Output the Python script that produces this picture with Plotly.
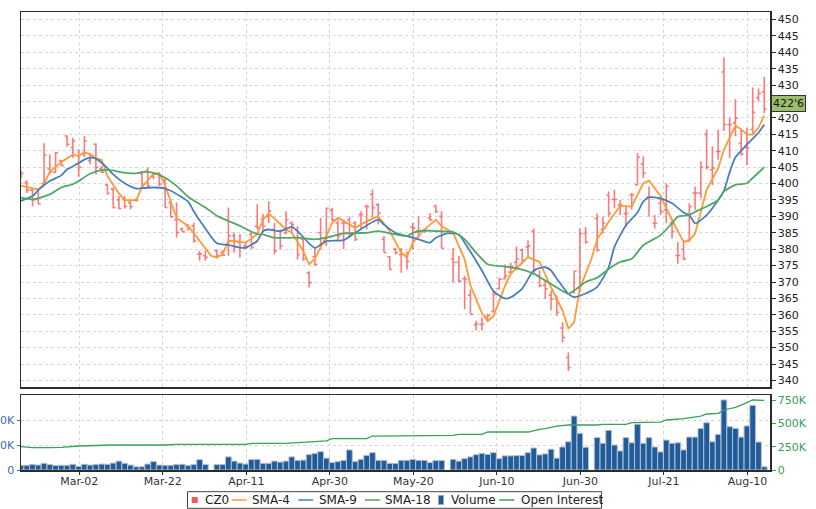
import plotly.graph_objects as go

# ---------------- data ----------------
# daily OHLC (weekday slots, None = exchange holiday)
opens = [402.5, 400.3, 398.0, 395.2, 400.0, 404.6, 403.5, 407.0, 414.5, 411.0, 406.0, 409.0, 407.0, 412.0, 404.5, 399.6, 398.3, 395.0, 395.2, 394.2, 395.0, 403.0, 404.0, 402.0, 403.0, 401.0, 394.2, 389.0, 386.1, 387.1, 387.1, 378.5, 378.0,
         None,
         379.5, 379.0, 388.8, 384.1, 382.0, 381.0, 384.6, 387.0, 389.1, 390.0, 386.0, 385.5, 385.0, 388.0, 386.0, 383.0, 372.8, 377.7, 385.0, 382.0, 392.0, 388.0, 388.0, 389.0, 388.0, 390.5, 393.0, 396.7, 393.5, 383.0, 377.7, 380.0, 378.4, 377.7, 386.8, 385.5, 385.5, 389.5, 393.0, 390.0,
         None,
         377.0, 376.0, 371.0, 366.0, 357.0, 357.0, 359.5, 361.0, 368.0, 371.0, 373.0, 376.0, 379.7, 380.7, 385.5, 372.0, 369.0, 366.0, 364.8, 356.0, 347.0, 367.0, 368.0, 384.8,
         None,
         389.4, 386.0, 396.5, 395.2, 393.5, 390.9, 396.5, 399.6, 406.0, 396.0, 387.9, 394.0, 392.0, 388.0, 378.1, 380.0, 382.7, 397.1, 397.1, 415.0, 404.2, 409.8, 434.0, 418.0, 418.5, 412.3, 411.0, 416.5, 426.2, 428.0]
highs = [404.0, 401.0, 398.5, 398.3, 412.3, 408.9, 409.7, 407.2, 414.7, 414.0, 410.4, 414.5, 409.4, 412.3, 405.4, 399.8, 398.8, 396.2, 396.2, 394.7, 395.5, 403.8, 404.9, 403.3, 403.3, 401.8, 395.2, 394.2, 386.6, 387.6, 388.1, 379.5, 379.5,
         None,
         380.0, 379.7, 392.7, 385.1, 384.6, 382.0, 385.1, 393.7, 390.7, 394.6, 388.0, 386.0, 391.6, 388.5, 387.0, 384.0, 373.3, 380.4, 389.6, 392.6, 392.6, 389.0, 389.0, 390.0, 388.5, 391.6, 393.6, 398.2, 394.1, 384.0, 377.9, 380.4, 380.4, 379.4, 388.0, 390.0, 386.0, 391.0, 393.6, 391.6,
         None,
         380.4, 377.9, 371.8, 367.8, 358.2, 359.2, 360.3, 367.2, 371.3, 375.3, 375.9, 380.8, 380.2, 382.7, 386.3, 373.5, 370.5, 367.4, 365.9, 357.7, 348.5, 373.5, 386.3, 386.8,
         None,
         390.9, 389.9, 397.6, 398.1, 395.0, 393.5, 397.1, 409.3, 408.3, 399.1, 390.4, 396.0, 400.1, 389.4, 382.2, 382.7, 394.0, 399.1, 406.8, 416.5, 411.4, 416.5, 438.5, 420.1, 425.7, 416.7, 417.0, 429.3, 429.0, 432.5]
lows = [401.5, 397.1, 393.0, 393.7, 399.8, 402.8, 403.3, 405.2, 411.2, 407.9, 402.1, 408.1, 405.9, 402.8, 403.3, 396.7, 392.4, 392.2, 392.4, 392.2, 394.5, 398.3, 398.8, 401.3, 399.3, 392.7, 389.6, 383.6, 385.1, 385.6, 382.0, 376.5, 376.5,
        None,
        377.5, 378.0, 378.0, 379.0, 377.5, 380.0, 380.0, 386.1, 385.1, 388.0, 378.4, 380.0, 384.5, 385.0, 376.9, 376.4, 368.3, 374.9, 379.9, 381.0, 388.5, 382.5, 380.0, 384.0, 382.5, 386.5, 386.0, 389.6, 387.5, 379.0, 373.8, 378.4, 372.8, 373.8, 379.9, 383.5, 385.0, 388.5, 391.0, 380.3,
        None,
        369.8, 369.8, 361.7, 360.2, 355.2, 355.2, 358.3, 360.7, 367.7, 370.8, 372.3, 373.6, 375.6, 377.6, 372.5, 368.4, 364.8, 361.3, 359.7, 351.6, 342.9, 366.4, 366.9, 381.7,
        None,
        379.2, 384.8, 389.9, 392.5, 390.4, 386.8, 392.0, 399.6, 401.7, 389.9, 386.3, 390.4, 387.9, 383.3, 375.6, 376.6, 382.2, 392.0, 395.5, 404.2, 399.6, 407.3, 416.0, 407.8, 414.4, 408.5, 405.7, 415.3, 425.0, 421.5]
closes = [403.1, 398.0, 395.0, 393.8, 408.7, 403.5, 409.4, 405.5, 412.0, 413.0, 405.0, 413.0, 408.6, 405.0, 403.5, 397.0, 392.7, 392.4, 393.0, 393.0, 395.0, 398.8, 399.3, 403.0, 399.8, 392.7, 389.9, 385.1, 385.3, 386.6, 382.6, 378.5, 377.5,
          None,
          378.0, 378.2, 384.1, 380.5, 380.5, 380.5, 380.5, 386.6, 387.0, 391.6, 379.5, 381.0, 389.0, 387.5, 378.4, 377.0, 369.8, 375.4, 383.5, 392.5, 389.0, 384.0, 388.0, 384.5, 383.0, 390.6, 393.0, 392.6, 391.0, 379.0, 373.8, 378.9, 378.4, 376.3, 386.5, 385.5, 385.5, 389.0, 391.5, 380.3,
          None,
          376.0, 370.3, 370.8, 360.2, 357.2, 357.2, 359.8, 366.2, 370.8, 371.8, 374.8, 377.0, 376.6, 381.0, 373.5, 368.9, 367.9, 364.8, 360.8, 353.1, 343.9, 373.3, 384.8, 382.2,
          None,
          379.7, 388.0, 390.9, 395.2, 393.5, 390.9, 396.5, 408.0, 403.2, 396.0, 387.9, 391.4, 399.1, 385.3, 378.1, 377.1, 393.0, 397.1, 405.0, 405.0, 404.7, 409.8, 418.0, 418.0, 419.9, 409.0, 410.9, 421.7, 427.5, 422.75]

# daily volume, thousands of contracts
volumes = [19, 19, 22, 20, 27, 22, 18, 19, 19, 23, 15, 23, 20, 22, 24, 23, 28, 36, 27, 20, 13, 13, 24, 34, 20, 19, 19, 22, 23, 18, 22, 42, 22,
           None,
           22, 22, 53, 36, 28, 24, 42, 43, 27, 27, 36, 32, 36, 53, 39, 40, 62, 67, 74, 48, 30, 34, 39, 81, 34, 43, 59, 70, 39, 39, 27, 27, 39, 39, 43, 39, 39, 30, 38, 38,
           None,
           43, 36, 46, 53, 62, 67, 63, 70, 46, 57, 57, 58, 59, 70, 89, 61, 65, 84, 48, 93, 114, 218, 148, 92,
           None,
           131, 108, 160, 101, 77, 131, 110, 185, 108, 131, 93, 73, 121, 108, 110, 81, 133, 133, 168, 191, 114, 144, 283, 175, 168, 133, 178, 261, 113, 13]

# moving averages (bar slot, value)
sma4_idx = [0, 1, 3, 4, 5, 7, 9, 10, 11, 12, 13, 14, 15, 17, 18, 20, 21, 23, 24, 25, 26, 27, 29, 31, 33, 34, 35, 36, 37, 39, 41, 42, 43, 44, 46, 47, 49, 50, 51, 53, 54, 55, 57, 58,
            60, 62, 64, 66, 67, 68, 70, 71, 72, 73, 75, 77, 78, 80, 81, 82, 84, 85, 87, 88, 90, 92, 94, 95, 96, 97, 99, 100, 102, 104, 106, 108, 109, 111, 113, 115, 116, 117, 119, 121, 122, 124, 125, 126, 127, 128, 129]
sma4_val = [399.3, 398.9, 398.2, 399.8, 403.6, 406.6, 408.8, 408.4, 409.6, 408.9, 407.8, 407.2, 402.3, 397.0, 395.0, 394.9, 399.0, 403.0, 403.2, 399.5, 394.5, 389.5, 387.1, 382.5, 378.0, 377.5, 378.5, 382.5, 382.5, 382.0, 384.6, 389.0, 390.9, 389.3, 386.0, 385.0, 379.4, 375.4, 377.1, 384.0, 388.0, 389.6, 387.5, 386.5,
            388.5, 390.1, 385.5, 378.9, 377.7, 382.0, 386.0, 387.5, 389.0, 387.0, 385.0, 376.9, 369.0, 360.5, 358.1, 359.6, 368.8, 372.5, 375.9, 377.6, 376.1, 368.4, 361.3, 355.8, 357.7, 368.0, 377.0, 383.0, 388.4, 393.2, 393.0, 400.1, 400.9, 396.2, 388.9, 382.2, 382.7, 384.8, 398.1, 404.7, 410.3, 417.7, 416.5, 414.9, 414.9, 417.0, 420.8]
sma9_idx = [0, 2, 3, 5, 7, 8, 9, 11, 12, 13, 15, 16, 18, 20, 21, 23, 25, 26, 29, 30, 32, 34, 36, 38, 39, 41, 42, 43, 45, 47, 48, 51, 53, 56, 58,
            62, 63, 65, 67, 69, 71, 72, 74, 76, 77, 80, 82, 84, 85, 87, 89, 91, 92, 93, 95, 96, 98, 100, 102, 103, 105, 107, 108, 109, 111, 113, 115, 116, 117, 119, 120, 122, 123, 124, 126, 128, 129]
sma9_val = [394.7, 396.2, 398.0, 400.8, 402.5, 404.4, 405.2, 407.3, 407.9, 407.6, 404.7, 402.8, 400.1, 398.5, 398.6, 398.8, 398.5, 397.8, 394.5, 391.5, 386.3, 381.8, 381.3, 380.5, 380.5, 382.5, 385.5, 386.0, 385.5, 386.8, 385.5, 380.4, 382.5, 382.8, 385.0,
            389.0, 387.5, 385.0, 384.0, 383.0, 382.0, 383.5, 384.8, 384.5, 382.0, 373.5, 367.2, 365.0, 365.3, 368.0, 373.5, 374.5, 373.5, 371.0, 366.4, 365.4, 366.5, 368.5, 374.5, 380.7, 387.3, 391.2, 394.5, 395.8, 395.5, 394.0, 391.2, 390.4, 387.9, 390.4, 392.5, 397.8, 403.5, 408.0, 411.9, 415.5, 418.0]
sma18_idx = [0, 2, 5, 7, 9, 10, 12, 14, 16, 17, 20, 21, 23, 25, 27, 29, 32, 34, 36, 38, 41, 42, 44, 48, 51, 53, 56,
             60, 62, 65, 67, 68, 70, 72, 75, 77, 79, 81, 84, 86, 89, 92, 95, 96, 98, 100, 102, 104, 106, 108, 111, 113, 114, 116, 117, 119, 121, 122, 124, 126, 127, 129]
sma18_val = [395.7, 395.2, 396.7, 398.8, 399.8, 400.8, 403.0, 404.1, 404.0, 403.6, 403.1, 403.5, 403.3, 401.8, 399.3, 396.0, 392.7, 390.2, 388.6, 387.1, 384.6, 384.5, 383.5, 383.5, 383.0, 383.5, 384.8,
             385.0, 385.5, 384.5, 384.0, 385.0, 385.7, 385.5, 385.2, 383.0, 378.9, 375.4, 374.7, 374.2, 372.5, 369.4, 366.4, 367.4, 370.0, 371.3, 374.0, 376.1, 377.1, 381.2, 384.3, 387.9, 389.9, 390.4, 391.4, 393.0, 395.0, 397.6, 399.6, 400.1, 401.7, 405.0]

# open interest (bar slot, thousands)
oi_idx = [0, 2, 5, 7, 10, 16, 25, 27, 39, 40, 46, 50, 53, 54, 60, 61, 66, 68, 75, 76, 80, 81, 88, 90, 91, 93, 95, 100, 101, 105, 106, 111, 112, 115, 116, 118, 119, 121, 122, 124, 125, 126, 127, 129]
oi_val = [250, 240, 240, 243, 257, 268, 268, 275, 275, 286, 286, 304, 311, 336, 336, 364, 364, 371, 371, 382, 382, 407, 407, 436, 443, 471, 482, 482, 489, 489, 507, 514, 536, 550, 561, 578, 600, 607, 643, 671, 696, 721, 750, 745]

date_labels = ["Mar-02", "Mar-22", "Apr-11", "Apr-30", "May-20", "Jun-10", "Jun-30", "Jul-21", "Aug-10"]
vol_ticks = [0, 100, 200]
oi_ticks = [0, 250, 500, 750]
last_label = "422'6"
legend_names = ["CZ0", "SMA-4", "SMA-9", "SMA-18", "Volume", "Open Interest"]

# ---------------- styles ----------------
FONT = "DejaVu Sans"
GRID = "#d6d6d6"
FRAME = "#2b2b2b"
C_BAR = "rgba(250,70,70,0.72)"
C_SQ = "#f25a5a"
C_SMA4 = "#ff9a35"
C_SMA9 = "#4a7fbe"
C_SMA18 = "#4fa866"
C_VOL = "#1f5c9c"
C_OI = "#36a257"

W, H = 816, 509
ML, MR, MT, MB = 21, 46, 12, 39
PW, PH = W - ML - MR, H - MT - MB

def xp(px):
    return (px - ML) / PW

def yp(py):
    return (H - MB - py) / PH

# ---------------- figure ----------------
n_slots = len(closes)
slots = list(range(n_slots))
first_label_slot, label_step = 10.1, 14.5
tick_pos = [first_label_slot + label_step * k for k in range(len(date_labels))]

bx = [s for s in slots if closes[s] is not None]
fig = go.Figure()
fig.add_trace(go.Ohlc(
    x=bx, open=[opens[s] for s in bx], high=[highs[s] for s in bx],
    low=[lows[s] for s in bx], close=[closes[s] for s in bx],
    increasing=dict(line=dict(color=C_BAR, width=1.6)),
    decreasing=dict(line=dict(color=C_BAR, width=1.6)),
    tickwidth=0.42, name=legend_names[0], showlegend=False, hoverinfo="skip",
    xaxis="x", yaxis="y"))
fig.add_trace(go.Scatter(x=sma4_idx, y=sma4_val, mode="lines", name=legend_names[1],
                         line=dict(color=C_SMA4, width=1.8), showlegend=False,
                         xaxis="x", yaxis="y"))
fig.add_trace(go.Scatter(x=sma9_idx, y=sma9_val, mode="lines", name=legend_names[2],
                         line=dict(color=C_SMA9, width=1.8, shape="spline", smoothing=0.6),
                         showlegend=False, xaxis="x", yaxis="y"))
fig.add_trace(go.Scatter(x=sma18_idx, y=sma18_val, mode="lines", name=legend_names[3],
                         line=dict(color=C_SMA18, width=1.8, shape="spline", smoothing=0.6),
                         showlegend=False, xaxis="x", yaxis="y"))
vx = [s for s in slots if volumes[s] is not None]
fig.add_trace(go.Bar(x=vx, y=[volumes[s] for s in vx], name=legend_names[4], width=1.0,
                     marker=dict(color=C_VOL, line=dict(color="#b9bfcc", width=1)),
                     showlegend=False, xaxis="x2", yaxis="y2"))
fig.add_trace(go.Scatter(x=oi_idx, y=oi_val, mode="lines", name=legend_names[5],
                         line=dict(color=C_OI, width=1.3), showlegend=False,
                         xaxis="x2", yaxis="y3"))

# ---- legend box drawn in the chart's own style (compact Java-chart legend) ----
shapes = [dict(type="rect", xref="paper", yref="paper", x0=xp(187.5), x1=xp(601.5),
               y0=yp(508.3), y1=yp(491.7), line=dict(color="#444", width=1),
               fillcolor="white", layer="above")]
annotations = []
leg_y = 500.0
leg_kinds = ["square", "line", "line", "line", "bar", "line"]
leg_colors = [C_SQ, C_SMA4, C_SMA9, C_SMA18, C_VOL, C_OI]
leg_sym_x = [191.7, 231.7, 298.3, 365.0, 438.5, 499.3]
leg_txt_x = [202.5, 250.0, 316.7, 383.3, 449.3, 519.3]
for name, kind, col, sx, tx in zip(legend_names, leg_kinds, leg_colors, leg_sym_x, leg_txt_x):
    if kind == "square":
        shapes.append(dict(type="rect", xref="paper", yref="paper", x0=xp(sx), x1=xp(sx + 6),
                           y0=yp(leg_y + 3), y1=yp(leg_y - 3), line=dict(width=0),
                           fillcolor=col, layer="above"))
    elif kind == "bar":
        shapes.append(dict(type="rect", xref="paper", yref="paper", x0=xp(sx), x1=xp(sx + 5),
                           y0=yp(leg_y + 4.5), y1=yp(leg_y - 4.5), line=dict(color="#9aa6b8", width=1),
                           fillcolor=col, layer="above"))
    else:
        shapes.append(dict(type="line", xref="paper", yref="paper", x0=xp(sx), x1=xp(sx + 15),
                           y0=yp(leg_y), y1=yp(leg_y), line=dict(color=col, width=1.5),
                           layer="above"))
    annotations.append(dict(x=xp(tx), y=yp(leg_y), xref="paper", yref="paper",
                            xanchor="left", yanchor="middle", text=name, showarrow=False,
                            font=dict(family=FONT, size=12, color="#222")))

annotations.append(dict(x=1, xref="paper", xanchor="left", xshift=1,
                        y=closes[-1], yref="y", yshift=5, yanchor="middle",
                        text=last_label, showarrow=False, bgcolor="#9dbf6b",
                        bordercolor="#333", borderwidth=1, borderpad=1,
                        font=dict(family=FONT, size=11, color="#111")))

axis_common = dict(showline=True, mirror=True, linecolor=FRAME, linewidth=1.5,
                   zeroline=False, gridcolor=GRID, griddash="3px,3px", automargin=False)
vol_bottom = 0.0
vol_top = yp(395)
price_bottom = yp(387)
fig.update_layout(
    width=W, height=H,
    margin=dict(l=ML, r=MR, t=MT, b=MB, autoexpand=False),
    paper_bgcolor="white", plot_bgcolor="white",
    font=dict(family=FONT, size=11, color="#222"),
    bargap=0, showlegend=False,
    xaxis=dict(domain=[0, 1], range=[0, n_slots], anchor="y", tickvals=tick_pos,
               showticklabels=False, ticks="", showgrid=True,
               rangeslider=dict(visible=False), **axis_common),
    yaxis=dict(domain=[price_bottom, 1], range=[338.0, 452.3], side="right", tick0=340, dtick=5,
               ticks="outside", ticklen=4, tickcolor=FRAME, showgrid=True,
               tickfont=dict(family=FONT, size=11, color="#222"), **axis_common),
    xaxis2=dict(domain=[0, 1], range=[0, n_slots], anchor="y2", tickvals=tick_pos,
                ticktext=date_labels, ticks="outside", ticklen=3, tickcolor=FRAME,
                ticklabelstandoff=-3,
                showgrid=True, tickfont=dict(family=FONT, size=11, color="#333"),
                rangeslider=dict(visible=False), **axis_common),
    yaxis2=dict(domain=[vol_bottom, vol_top], range=[0, 303], side="left", anchor="x2",
                tickvals=vol_ticks, ticktext=["0"] + [f"{v}K" for v in vol_ticks[1:]],
                ticks="outside", ticklen=3, tickcolor="#3d6fb0", showgrid=True,
                tickfont=dict(family=FONT, size=11, color="#3d6fb0"), **axis_common),
    yaxis3=dict(range=[0, 803.6], side="right", overlaying="y2", anchor="x2",
                tickvals=oi_ticks, ticktext=["0"] + [f"{v}K" for v in oi_ticks[1:]],
                ticks="outside", ticklen=4, tickcolor=C_OI, showgrid=False, zeroline=False,
                showline=True, linecolor=FRAME, linewidth=1.5, automargin=False,
                tickfont=dict(family=FONT, size=11, color="#3a9a5a")),
    shapes=shapes,
    annotations=annotations,
)

fig.write_html("out.html",
               config={"displayModeBar": False, "staticPlot": True},
               post_script="document.body.style.margin='0';document.body.style.overflow='hidden';")
